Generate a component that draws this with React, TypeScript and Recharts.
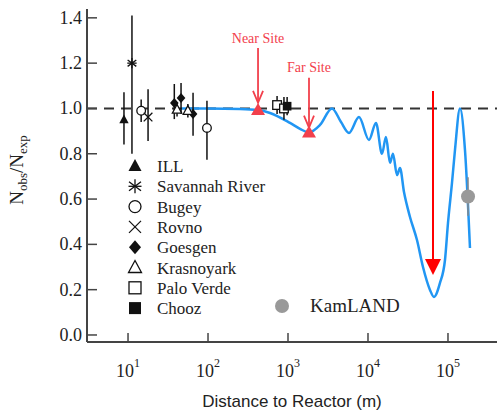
import React from "react";
import {
  ComposedChart,
  Line,
  Scatter,
  ErrorBar,
  XAxis,
  YAxis,
  ReferenceLine,
  ReferenceDot,
  Label,
} from "recharts";

const SERIF = '"Liberation Serif", "Times New Roman", serif';
const SANS = '"Liberation Sans", Arial, sans-serif';
const AXIS = "#444";
const RED = "#f2404c";

// reactor experiments: distance (m), ratio, [minus, plus] error
const ill = [{ x: 8.9, y: 0.951, err: [0.11, 0.12] }];
const savannah = [{ x: 11.2, y: 1.2, err: [0.4, 0.21] }];
const bugey = [
  { x: 14.6, y: 0.99, err: [0.05, 0.05] },
  { x: 97, y: 0.914, err: [0.14, 0.12] },
];
const rovno = [{ x: 17.8, y: 0.962, err: [0.106, 0.123] }];
const goesgen = [
  { x: 37.9, y: 1.024, err: [0.071, 0.084] },
  { x: 46, y: 1.046, err: [0.071, 0.066] },
  { x: 65, y: 0.976, err: [0.097, 0.093] },
];
const krasnoyark = [
  { x: 41, y: 0.995, err: [0.03, 0.03] },
  { x: 56, y: 0.99, err: [0.03, 0.03] },
];
const paloVerde = [
  { x: 730, y: 1.015, err: [0.04, 0.04] },
  { x: 890, y: 1.0, err: [0.05, 0.05] },
];
const chooz = [{ x: 975, y: 1.01, err: [0.04, 0.04] }];
const kamland = [{ x: 178000, y: 0.611, err: [0.085, 0.085] }];
const sites = [
  { x: 422, y: 0.993 },
  { x: 1830, y: 0.894 },
];

// oscillation curve
const curveL = [
  47, 100, 251, 422, 596, 1059, 1413, 1830, 2512, 3548, 4598, 5788, 7718,
  10292, 12589, 14962, 16788, 18836, 20535, 23041, 25119, 28184, 33497, 40973,
  48697, 59566, 66834, 79433, 91728, 100000, 112202, 122350, 141254, 163060,
  188365,
];
const curveR = [
  1.0, 1.0, 0.998, 0.993, 0.98, 0.936, 0.91, 0.894, 0.927, 1.0, 0.94, 0.892,
  0.962, 0.861, 0.936, 0.8, 0.874, 0.76, 0.8, 0.706, 0.737, 0.631, 0.521,
  0.419, 0.3, 0.199, 0.168, 0.23, 0.331, 0.494, 0.671, 0.817, 1.0, 0.817,
  0.384,
];
const curve = curveL.map((x, i) => ({ x, y: curveR[i] }));

const xTicks = [10, 100, 1000, 10000, 100000];
const yTicks = [0, 0.2, 0.4, 0.6, 0.8, 1.0, 1.2, 1.4];

const legendNames = [
  "ILL",
  "Savannah River",
  "Bugey",
  "Rovno",
  "Goesgen",
  "Krasnoyark",
  "Palo Verde",
  "Chooz",
];

const Marker = ({ kind, cx, cy, s = 1 }: any) => {
  const k = "#111";
  const a = 6.5 * s;
  const h = 7 * s;
  const b = 5 * s;
  const r = 6 * s;
  switch (kind) {
    case "ILL":
      return <polygon points={`${cx},${cy - h} ${cx + a},${cy + b} ${cx - a},${cy + b}`} fill={k} />;
    case "Savannah River":
      return (
        <g stroke={k} strokeWidth={1.3}>
          <line x1={cx} y1={cy - h} x2={cx} y2={cy + h} />
          <line x1={cx - r} y1={cy - 4.5 * s} x2={cx + r} y2={cy + 4.5 * s} />
          <line x1={cx - r} y1={cy + 4.5 * s} x2={cx + r} y2={cy - 4.5 * s} />
          <line x1={cx - a} y1={cy} x2={cx + a} y2={cy} />
        </g>
      );
    case "Bugey":
      return <circle cx={cx} cy={cy} r={r} fill="#fff" stroke={k} strokeWidth={1.3} />;
    case "Rovno":
      return (
        <g stroke={k} strokeWidth={1.3}>
          <line x1={cx - r} y1={cy - r} x2={cx + r} y2={cy + r} />
          <line x1={cx - r} y1={cy + r} x2={cx + r} y2={cy - r} />
        </g>
      );
    case "Goesgen":
      return <polygon points={`${cx},${cy - h} ${cx + r},${cy} ${cx},${cy + h} ${cx - r},${cy}`} fill={k} />;
    case "Krasnoyark":
      return (
        <polygon
          points={`${cx},${cy - h} ${cx + a},${cy + b} ${cx - a},${cy + b}`}
          fill="#fff"
          stroke={k}
          strokeWidth={1.3}
        />
      );
    case "Palo Verde":
      return <rect x={cx - r} y={cy - r} width={2 * r} height={2 * r} fill="#fff" stroke={k} strokeWidth={1.3} />;
    case "Chooz":
      return <rect x={cx - r} y={cy - r} width={2 * r} height={2 * r} fill={k} />;
    case "KamLAND":
      return <circle cx={cx} cy={cy} r={7} fill="#999" />;
    case "Site":
      return <polygon points={`${cx},${cy - 7} ${cx + 7},${cy + 5} ${cx - 7},${cy + 5}`} fill={RED} />;
    default:
      return null;
  }
};

const XTick = ({ x, y, payload }: any) => {
  const exp = Math.round(Math.log10(payload.value));
  return (
    <g>
      <line x1={x} x2={x} y1={y} y2={y - 9} stroke={AXIS} strokeWidth={1.5} />
      <text x={x} y={y + 35} textAnchor="middle" fontFamily={SERIF} fontSize={18} fill="#222">
        10
        <tspan dy={-10} fontSize={12}>
          {exp}
        </tspan>
      </text>
    </g>
  );
};

const YTick = ({ x, y, payload }: any) => (
  <g>
    <line x1={x} x2={x + 10} y1={y} y2={y} stroke={AXIS} strokeWidth={1.5} />
    <text x={x - 5} y={y + 6} textAnchor="end" fontFamily={SERIF} fontSize={18} fill="#222">
      {payload.value.toFixed(1)}
    </text>
  </g>
);

const series = [
  { name: "ILL", data: ill },
  { name: "Savannah River", data: savannah },
  { name: "Bugey", data: bugey },
  { name: "Rovno", data: rovno },
  { name: "Goesgen", data: goesgen },
  { name: "Krasnoyark", data: krasnoyark },
  { name: "Palo Verde", data: paloVerde },
  { name: "Chooz", data: chooz },
];

const Overlay = () => (
  <svg
    width={497}
    height={412}
    style={{ position: "absolute", left: 0, top: 0, pointerEvents: "none" }}
  >
    {legendNames.map((n, i) => {
      const cy = 166 + i * 20.3;
      return (
        <g key={n}>
          <Marker kind={n} cx={135} cy={cy} />
          <text x={157} y={cy + 6} fontFamily={SERIF} fontSize={17} fill="#222">
            {n}
          </text>
        </g>
      );
    })}
    <Marker kind="KamLAND" cx={282} cy={306} />
    <text x={310} y={312} fontFamily={SERIF} fontSize={19} fill="#222">
      KamLAND
    </text>
    <text transform="translate(23,170) rotate(-90)" textAnchor="middle" fontFamily={SERIF} fontSize={19} fill="#222">
      N
      <tspan fontSize={13} dy={4}>obs</tspan>
      <tspan dy={-4}>/N</tspan>
      <tspan fontSize={13} dy={4}>exp</tspan>
    </text>
  </svg>
);

const VHead = ({ cx, cy }: any) => (
  <polyline
    points={`${cx - 5},${cy - 12} ${cx},${cy} ${cx + 5},${cy - 12}`}
    fill="none"
    stroke={RED}
    strokeWidth={1.8}
  />
);

const BigHead = ({ cx, cy }: any) => (
  <polygon points={`${cx - 8},${cy - 16} ${cx + 8},${cy - 16} ${cx},${cy}`} fill="#ff0000" />
);

const SiteText = (text: string) => ({ cx, cy }: any) => (
  <text x={cx} y={cy} textAnchor="middle" fontFamily={SERIF} fontSize={14} fill={RED}>
    {text}
  </text>
);

export default function App() {
  return (
    <div style={{ position: "absolute", left: 0, top: 0, width: 497, height: 412 }}>
      <ComposedChart width={497} height={412} margin={{ top: 9, right: 0, bottom: 0, left: 0 }}>
        <XAxis
          dataKey="x"
          type="number"
          scale="log"
          domain={[3.07, 410000]}
          allowDataOverflow
          ticks={xTicks}
          tick={<XTick />}
          tickLine={false}
          tickSize={0}
          tickMargin={0}
          height={70}
          axisLine={{ stroke: AXIS, strokeWidth: 2 }}
        >
          <Label
            value="Distance to Reactor (m)"
            position="insideBottom"
            offset={5}
            style={{ fontFamily: SANS, fontSize: 17, fill: "#222" }}
          />
        </XAxis>
        <XAxis
          xAxisId="top"
          orientation="top"
          type="number"
          domain={[0, 1]}
          tick={false}
          tickLine={false}
          height={0}
          axisLine={{ stroke: AXIS, strokeWidth: 2 }}
        />
        <YAxis
          type="number"
          domain={[-0.031, 1.439]}
          allowDataOverflow
          ticks={yTicks}
          tick={<YTick />}
          tickLine={false}
          tickSize={0}
          tickMargin={0}
          width={87}
          axisLine={{ stroke: AXIS, strokeWidth: 2 }}
        />
        <ReferenceLine y={1} stroke="#333" strokeWidth={2} strokeDasharray="10 7" />
        <Line
          data={curve}
          dataKey="y"
          type="monotone"
          stroke="#2196f3"
          strokeWidth={2.5}
          dot={false}
          isAnimationActive={false}
        />
        {series.map((s) => (
          <Scatter
            key={s.name}
            name={s.name}
            data={s.data}
            dataKey="y"
            shape={(p: any) => <Marker kind={s.name} cx={p.cx} cy={p.cy} s={0.72} />}
            isAnimationActive={false}
          >
            <ErrorBar dataKey="err" direction="y" width={0} stroke="#111" strokeWidth={1.5} />
          </Scatter>
        ))}
        <Scatter
          name="KamLAND"
          data={kamland}
          dataKey="y"
          shape={(p: any) => <Marker kind="KamLAND" cx={p.cx} cy={p.cy} />}
          isAnimationActive={false}
        >
          <ErrorBar dataKey="err" direction="y" width={0} stroke="#888" strokeWidth={1.5} />
        </Scatter>
        <Scatter
          name="Sites"
          data={sites}
          dataKey="y"
          shape={(p: any) => <Marker kind="Site" cx={p.cx} cy={p.cy} />}
          isAnimationActive={false}
        />
        <ReferenceLine
          segment={[{ x: 422, y: 1.267 }, { x: 422, y: 1.03 }]}
          stroke={RED}
          strokeWidth={1.8}
          ifOverflow="visible"
        />
        <ReferenceDot x={422} y={1.025} shape={VHead} ifOverflow="visible" />
        <ReferenceDot x={422} y={1.289} shape={SiteText("Near Site")} ifOverflow="visible" />
        <ReferenceLine
          segment={[{ x: 1830, y: 1.135 }, { x: 1830, y: 0.92 }]}
          stroke={RED}
          strokeWidth={1.8}
          ifOverflow="visible"
        />
        <ReferenceDot x={1830} y={0.915} shape={VHead} ifOverflow="visible" />
        <ReferenceDot x={1830} y={1.161} shape={SiteText("Far Site")} ifOverflow="visible" />
        <ReferenceLine
          segment={[{ x: 65000, y: 1.077 }, { x: 65000, y: 0.31 }]}
          stroke="#ff0000"
          strokeWidth={2}
          ifOverflow="visible"
        />
        <ReferenceDot x={65000} y={0.265} shape={BigHead} ifOverflow="visible" />
      </ComposedChart>
      <Overlay />
    </div>
  );
}
